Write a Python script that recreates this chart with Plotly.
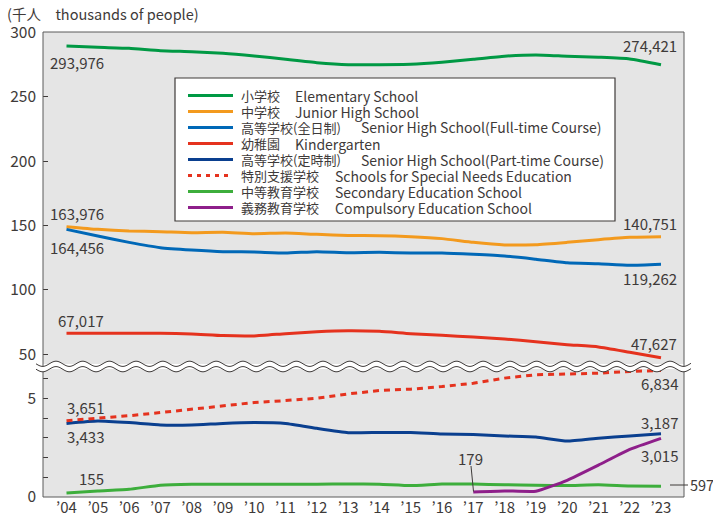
import plotly.graph_objects as go
import numpy as np

# ---------------- data (thousands of people) ----------------
years = list(range(2004, 2024))
year_labels = ["’" + str(y)[2:] for y in years]

elementary = [289.4, 288.3, 287.5, 285.7, 284.9, 283.7, 281.6, 279.0, 276.4, 274.8,
              274.8, 275.1, 276.7, 279.0, 281.4, 282.4, 281.4, 280.6, 279.3, 274.8]
junior_high = [149.1, 147.0, 145.7, 145.2, 144.4, 144.7, 143.6, 144.2, 143.1, 142.3,
               142.1, 141.3, 139.8, 136.9, 134.9, 135.1, 136.9, 139.0, 140.8, 141.3]
senior_full = [147.0, 141.9, 136.9, 132.8, 131.0, 129.7, 129.4, 128.6, 129.7, 128.9,
               129.2, 128.6, 128.6, 127.6, 126.3, 123.8, 121.1, 120.3, 119.1, 119.9]
kindergarten = [66.3, 66.3, 66.3, 66.3, 65.8, 64.5, 64.3, 66.0, 67.5, 68.3,
                67.8, 66.0, 64.7, 63.4, 61.9, 59.8, 57.5, 55.7, 51.6, 47.4]

senior_part = [3.74, 3.86, 3.78, 3.66, 3.66, 3.74, 3.78, 3.74, 3.49, 3.27,
               3.28, 3.28, 3.20, 3.18, 3.10, 3.05, 2.84, 2.99, 3.10, 3.21]
special_needs = [3.88, 4.00, 4.13, 4.29, 4.46, 4.63, 4.80, 4.90, 5.02, 5.24,
                 5.41, 5.48, 5.61, 5.78, 6.04, 6.21, 6.26, 6.29, 6.38, 6.43]
secondary = [0.20, 0.31, 0.39, 0.60, 0.65, 0.65, 0.65, 0.65, 0.65, 0.66,
             0.65, 0.58, 0.66, 0.66, 0.62, 0.60, 0.58, 0.62, 0.56, 0.55]
compulsory = [None] * 13 + [0.26, 0.31, 0.29, 0.85, 1.62, 2.42, 2.98]

top_ticks = [50, 100, 150, 200, 250, 300]
bottom_ticks = [0, 1, 2, 3, 4, 5, 6]
bottom_ticktext = ["0", "", "", "", "", "5", ""]

series_jp = ["小学校", "中学校", "高等学校(全日制)", "幼稚園", "高等学校(定時制)",
             "特別支援学校", "中等教育学校", "義務教育学校"]
series_en = ["Elementary School", "Junior High School", "Senior High School(Full-time Course)",
             "Kindergarten", "Senior High School(Part-time Course)",
             "Schools for Special Needs Education", "Secondary Education School",
             "Compulsory Education School"]

# ---------------- styles ----------------
C_ELEM = "#009944"
C_JH = "#F39A1E"
C_SHF = "#0068B7"
C_KIND = "#E5321E"
C_SHP = "#0A3F8F"
C_SPEC = "#E5321E"
C_SEC = "#3DAE3C"
C_COMP = "#8E1F8A"
TXT = "#3E3A39"
FONT = "Noto Sans CJK JP"
FRAME = "#5a5a5a"

W, H = 713, 523
L, R, T, B = 43, 684, 32, 497
PW, PH = R - L, B - T


def px(x):
    return (x - L) / PW


def py(y):
    return (B - y) / PH


fig = go.Figure()

top_series = [(elementary, C_ELEM), (junior_high, C_JH), (senior_full, C_SHF), (kindergarten, C_KIND)]
for vals, col in top_series:
    fig.add_trace(go.Scatter(x=years, y=vals, mode="lines", yaxis="y2",
                             line=dict(color=col, width=3, shape="spline", smoothing=0.5),
                             showlegend=False, hoverinfo="skip"))

bottom_series = [(senior_part, C_SHP, "solid"), (special_needs, C_SPEC, "dot"),
                 (secondary, C_SEC, "solid"), (compulsory, C_COMP, "solid")]
for vals, col, dash in bottom_series:
    if dash == "dot":
        line = dict(color=col, width=3, dash="6px,5px")
    else:
        line = dict(color=col, width=3, shape="spline", smoothing=0.4)
    fig.add_trace(go.Scatter(x=years, y=vals, mode="lines", yaxis="y",
                             line=line, showlegend=False, hoverinfo="skip"))

# ---------------- shapes ----------------
shapes = []
shapes.append(dict(type="rect", xref="paper", yref="paper", x0=0, x1=1, y0=0, y1=1,
                   line=dict(color=FRAME, width=1), fillcolor="rgba(0,0,0,0)", layer="above"))


def wave(yc, x0=36, x1=691, period=26.7, amp=2.6, step=1.0):
    xs = np.arange(x0, x1 + step, step)
    ys = yc + amp * np.sin(2 * np.pi * (xs - x0) / period)
    return xs, ys


xs1, ys1 = wave(363.8)
xs2, ys2 = wave(369.2)
band = "M " + " L ".join(f"{px(a):.5f},{py(b):.5f}" for a, b in zip(xs1, ys1))
band += " L " + " L ".join(f"{px(a):.5f},{py(b):.5f}" for a, b in zip(xs2[::-1], ys2[::-1])) + " Z"
shapes.append(dict(type="path", xref="paper", yref="paper", path=band,
                   fillcolor="white", line=dict(width=0), layer="above"))
for xs, ys in ((xs1, ys1), (xs2, ys2)):
    p = "M " + " L ".join(f"{px(a):.5f},{py(b):.5f}" for a, b in zip(xs, ys))
    shapes.append(dict(type="path", xref="paper", yref="paper", path=p,
                       line=dict(color=TXT, width=1), layer="above"))

# legend box
LX0, LX1, LY0, LY1 = 175, 615, 78, 221
shapes.append(dict(type="rect", xref="paper", yref="paper", x0=px(LX0), x1=px(LX1),
                   y0=py(LY1), y1=py(LY0), fillcolor="white",
                   line=dict(color=TXT, width=1.2), layer="above"))
row_y = [95.5, 111.5, 127.5, 143.5, 159.5, 175.5, 191.5, 207.5]
en_x = [293, 293, 359, 293, 359, 333, 333, 333]
leg_cols = [C_ELEM, C_JH, C_SHF, C_KIND, C_SHP, C_SPEC, C_SEC, C_COMP]
leg_dot = [False] * 5 + [True] + [False] * 2

annotations = []
for jp, en, yy, ex, col, dt in zip(series_jp, series_en, row_y, en_x, leg_cols, leg_dot):
    shapes.append(dict(type="line", xref="paper", yref="paper", x0=px(188), x1=px(233),
                       y0=py(yy), y1=py(yy), layer="above",
                       line=dict(color=col, width=3, dash=("4px,5px" if dt else "solid"))))
    annotations.append(dict(xref="paper", yref="paper", x=px(239), y=py(yy), xanchor="left",
                            yanchor="middle", showarrow=False, text=jp,
                            font=dict(family=FONT, size=13, color=TXT)))
    annotations.append(dict(xref="paper", yref="paper", x=px(ex), y=py(yy), xanchor="left",
                            yanchor="middle", showarrow=False, text=en,
                            font=dict(family=FONT, size=14, color=TXT)))

# leader lines
shapes.append(dict(type="line", xref="paper", yref="paper", x0=px(471), x1=px(473.5),
                   y0=py(466), y1=py(491.5), line=dict(color=TXT, width=1), layer="above"))
shapes.append(dict(type="line", xref="paper", yref="paper", x0=px(670), x1=px(688),
                   y0=py(485), y1=py(485), line=dict(color=TXT, width=1), layer="above"))

value_labels = [
    ("293,976", 77, 62, "center"), ("274,421", 679, 45, "right"),
    ("163,976", 77, 213, "center"), ("164,456", 77, 248, "center"),
    ("67,017", 81, 320, "center"), ("140,751", 679, 223, "right"),
    ("119,262", 679, 278, "right"), ("47,627", 679, 343, "right"),
    ("6,834", 680, 383, "right"), ("3,187", 680, 422, "right"),
    ("3,015", 680, 455, "right"), ("597", 687.5, 484, "left"),
    ("179", 470, 458, "center"), ("3,651", 85, 407, "center"),
    ("3,433", 85, 436, "center"), ("155", 91, 478, "center"),
]
for t, x, y, a in value_labels:
    annotations.append(dict(xref="paper", yref="paper", x=px(x), y=py(y), xanchor=a,
                            yanchor="middle", showarrow=False, text=t,
                            font=dict(family=FONT, size=15 if t != "597" else 14.5, color=TXT)))

annotations.append(dict(xref="paper", yref="paper", x=px(5), y=py(14), xanchor="left",
                        yanchor="middle", showarrow=False, text="(千人　thousands of people)",
                        font=dict(family=FONT, size=14.5, color=TXT)))

fig.update_layout(
    width=W, height=H, autosize=False,
    margin=dict(l=L, r=W - R, t=T, b=H - B, pad=0, autoexpand=False),
    paper_bgcolor="white", plot_bgcolor="#E5E5E5",
    font=dict(family=FONT, size=15, color=TXT),
    xaxis=dict(range=[2003.249, 2023.735], tickmode="array", tickvals=years, ticktext=year_labels,
               showgrid=False, zeroline=False, showline=False, ticks="", automargin=False,
               tickfont=dict(size=15, color=TXT, family=FONT), anchor="y", fixedrange=True),
    yaxis=dict(domain=[0, 128 / PH], range=[0, 128 / 19.68], tickmode="array",
               tickvals=bottom_ticks, ticktext=bottom_ticktext, ticks="inside", ticklen=5,
               tickcolor=TXT, tickwidth=1, showgrid=False, zeroline=False, showline=False,
               automargin=False,
               ticklabelstandoff=6, tickfont=dict(size=15.5, color=TXT, family=FONT)),
    yaxis2=dict(domain=[(B - 364) / PH, 1], range=[300 - (364 - 32.3) / 1.288, 300.2],
                tickmode="array", tickvals=top_ticks, ticks="inside", ticklen=5,
                tickcolor=TXT, tickwidth=1, showgrid=False, zeroline=False, showline=False,
                anchor="x", automargin=False,
                ticklabelstandoff=6, tickfont=dict(size=15.5, color=TXT, family=FONT)),
    shapes=shapes, annotations=annotations, showlegend=False,
)

fig.write_html("out.html", config={"displayModeBar": False},
               post_script="document.body.style.margin='0';document.body.style.overflow='hidden';")
